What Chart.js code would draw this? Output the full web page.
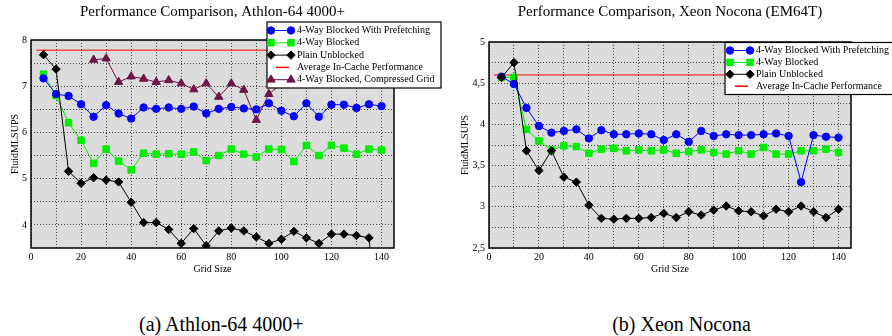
<!DOCTYPE html>
<html>
<head>
<meta charset="utf-8">
<script src="https://cdn.jsdelivr.net/npm/chart.js@4/dist/chart.umd.min.js"></script>
<style>
  body { margin: 0; background: #fff; width: 892px; height: 336px; position: relative; overflow: hidden; font-family: "Liberation Serif", serif; }
  .wrap { position: absolute; top: 0; width: 446px; height: 280px; }
  .caption { position: absolute; top: 314px; font-size: 20px; line-height: 20px; white-space: nowrap; color: #000; }
</style>
</head>
<body>
<div class="wrap" style="left:0"><canvas id="athlon"></canvas></div>
<div class="wrap" style="left:446px"><canvas id="xeon"></canvas></div>
<div class="caption" style="left:139px">(a) Athlon-64 4000+</div>
<div class="caption" style="right:141px">(b) Xeon Nocona</div>
<script>
// Données
const gridSize = [5, 10, 15, 20, 25, 30, 35, 40, 45, 50, 55, 60, 65, 70, 75, 80, 85, 90, 95, 100, 105, 110, 115, 120, 125, 130, 135, 140];

const athlonPrefetch = [7.17, 6.83, 6.79, 6.61, 6.34, 6.59, 6.41, 6.30, 6.54, 6.51, 6.54, 6.51, 6.56, 6.41, 6.51, 6.55, 6.52, 6.50, 6.63, 6.47, 6.35, 6.63, 6.34, 6.60, 6.60, 6.53, 6.61, 6.57];
const athlonBlocked = [7.26, 6.80, 6.21, 5.83, 5.33, 5.64, 5.38, 5.19, 5.55, 5.53, 5.54, 5.53, 5.58, 5.39, 5.50, 5.64, 5.53, 5.47, 5.64, 5.63, 5.37, 5.72, 5.50, 5.72, 5.66, 5.53, 5.64, 5.62];
const athlonUnblocked = [7.68, 7.37, 5.16, 4.90, 5.02, 4.97, 4.93, 4.49, 4.05, 4.05, 3.90, 3.60, 3.92, 3.55, 3.87, 3.93, 3.87, 3.74, 3.60, 3.69, 3.86, 3.72, 3.60, 3.80, 3.80, 3.77, 3.72, 1.0];
const compressedGrid = [25, 30, 35, 40, 45, 50, 55, 60, 65, 70, 75, 80, 85, 90, 95, 100];
const athlonCompressed = [7.57, 7.60, 7.09, 7.21, 7.16, 7.09, 7.13, 7.06, 6.93, 7.06, 6.77, 7.06, 6.92, 6.27, 6.83, 7.05];
const athlonInCache = 7.78;

const xeonPrefetch = [4.58, 4.49, 4.20, 3.98, 3.90, 3.92, 3.94, 3.83, 3.93, 3.88, 3.88, 3.89, 3.88, 3.81, 3.88, 3.79, 3.92, 3.86, 3.88, 3.87, 3.87, 3.88, 3.89, 3.86, 3.30, 3.87, 3.85, 3.84];
const xeonBlocked = [4.57, 4.57, 3.94, 3.80, 3.69, 3.74, 3.73, 3.65, 3.70, 3.71, 3.68, 3.69, 3.68, 3.69, 3.65, 3.67, 3.69, 3.66, 3.64, 3.68, 3.64, 3.72, 3.64, 3.64, 3.68, 3.68, 3.70, 3.66];
const xeonUnblocked = [4.57, 4.75, 3.68, 3.44, 3.68, 3.36, 3.30, 3.02, 2.86, 2.85, 2.86, 2.86, 2.87, 2.92, 2.87, 2.94, 2.90, 2.96, 3.01, 2.95, 2.94, 2.89, 2.97, 2.94, 3.01, 2.94, 2.87, 2.97];
const xeonInCache = 4.60;
const inCacheRange = [2, 145];

const xTicks = [0, 10, 20, 30, 40, 50, 60, 70, 80, 90, 100, 110, 120, 130, 140];
const xTickLabels = [0, 20, 40, 60, 80, 100, 120, 140];
const athlonYTicks = [4, 4.5, 5, 5.5, 6, 6.5, 7, 7.5, 8];
const athlonYLabels = [4, 5, 6, 7, 8];
const xeonYTicks = [2.5, 2.75, 3, 3.25, 3.5, 3.75, 4, 4.25, 4.5, 4.75, 5];
const xeonYLabels = [2.5, 3, 3.5, 4, 4.5, 5];

const labels = {
  prefetch: "4-Way Blocked With Prefetching",
  blocked: "4-Way Blocked",
  unblocked: "Plain Unblocked",
  inCache: "Average In-Cache Performance",
  compressed: "4-Way Blocked, Compressed Grid"
};

const FONT = "'Liberation Serif', 'Times New Roman', serif";

function pts(xs, ys) {
  return xs.map((x, i) => ({ x: x, y: ys[i] }));
}

function serie(label, data, color, style, radius, order) {
  return {
    label: label,
    data: data,
    borderColor: color,
    backgroundColor: color,
    pointBackgroundColor: color,
    pointBorderColor: color,
    pointStyle: style,
    pointRadius: radius,
    pointBorderWidth: 1,
    borderWidth: 1,
    tension: 0,
    order: order
  };
}

// Fond gris, cadre, titre et légende dessinés dans la zone du graphique
const framePlugin = {
  id: "frame",
  beforeDraw(chart) {
    const a = chart.chartArea;
    const ctx = chart.ctx;
    ctx.save();
    ctx.fillStyle = "#dcdcdc";
    ctx.fillRect(a.left, a.top, a.right - a.left, a.bottom - a.top);
    ctx.restore();
  },
  afterDraw(chart, args, opts) {
    const a = chart.chartArea;
    const ctx = chart.ctx;
    ctx.save();
    ctx.strokeStyle = "#000";
    ctx.lineWidth = 1.5;
    ctx.strokeRect(a.left, a.top, a.right - a.left, a.bottom - a.top);

    // titre
    ctx.fillStyle = "#000";
    ctx.font = "15px " + FONT;
    ctx.textAlign = "center";
    ctx.textBaseline = "middle";
    ctx.fillText(opts.title, (a.left + a.right) / 2, 12);

    // légende
    const L = opts.legend;
    ctx.fillStyle = "#fff";
    ctx.fillRect(L.x, L.y, L.w, L.h);
    ctx.strokeStyle = "#000";
    ctx.lineWidth = 1.2;
    ctx.strokeRect(L.x, L.y, L.w, L.h);
    ctx.font = "10px " + FONT;
    ctx.textAlign = "left";
    L.order.forEach((idx, row) => {
      const ds = chart.data.datasets[idx];
      const y = L.y + L.first + row * L.rowH;
      const x0 = L.x + L.symX;
      const x1 = x0 + 20;
      ctx.strokeStyle = ds.borderColor;
      ctx.lineWidth = ds.pointRadius > 0 ? 1 : 1.5;
      ctx.beginPath();
      if (ds.pointRadius > 0) {
        ctx.moveTo(x0, y);
        ctx.lineTo(x1, y);
      } else {
        ctx.moveTo(x0 + 5, y);
        ctx.lineTo(x1 - 2, y);
      }
      ctx.stroke();
      if (ds.pointRadius > 0) {
        ctx.fillStyle = ds.pointBackgroundColor;
        const o = { pointStyle: ds.pointStyle, radius: ds.pointRadius, borderWidth: 1, rotation: 0 };
        Chart.helpers.drawPoint(ctx, o, x0, y);
        Chart.helpers.drawPoint(ctx, o, x1, y);
      }
      ctx.fillStyle = "#000";
      ctx.fillText(ds.label, x1 + 6, y);
    });
    ctx.restore();
  }
};

function makeOptions(cfg) {
  return {
    responsive: true,
    maintainAspectRatio: false,
    animation: false,
    layout: { padding: cfg.padding },
    plugins: {
      legend: { display: false },
      title: { display: false },
      tooltip: { enabled: false },
      frame: { title: cfg.title, legend: cfg.legend }
    },
    scales: {
      x: {
        type: "linear",
        min: 0,
        max: 145,
        afterFit: (scale) => { scale.height = 32; },
        afterBuildTicks: (scale) => { scale.ticks = xTicks.map((v) => ({ value: v })); },
        grid: { color: "#444", lineWidth: 1, drawTicks: false },
        border: { display: false, dash: [1, 2] },
        ticks: {
          autoSkip: false,
          maxRotation: 0,
          padding: 3,
          color: "#000",
          font: { family: FONT, size: 10 },
          callback: (v) => (xTickLabels.includes(v) ? String(v) : "")
        },
        title: {
          display: true,
          text: "Grid Size",
          color: "#000",
          font: { family: FONT, size: 10 },
          padding: { top: 0, bottom: 5 }
        }
      },
      y: {
        type: "linear",
        min: cfg.yMin,
        max: cfg.yMax,
        afterFit: (scale) => { scale.width = cfg.yWidth; },
        afterBuildTicks: (scale) => { scale.ticks = cfg.yTicks.map((v) => ({ value: v })); },
        grid: { color: "#444", lineWidth: 1, drawTicks: false },
        border: { display: false, dash: [1, 2] },
        ticks: {
          autoSkip: false,
          padding: 4,
          color: "#000",
          font: { family: FONT, size: 10 },
          callback: (v) => (cfg.yLabels.includes(v) ? String(v).replace(".", ",") : "")
        },
        title: {
          display: true,
          text: "FluidMLSUPS",
          color: "#000",
          font: { family: FONT, size: 10 },
          padding: { top: cfg.yTitlePad, bottom: 0 }
        }
      }
    }
  };
}

// Athlon-64 4000+
new Chart(document.getElementById("athlon"), {
  type: "line",
  data: {
    datasets: [
      serie(labels.prefetch, pts(gridSize, athlonPrefetch), "#0000ff", "circle", 3.7, 2),
      serie(labels.blocked, pts(gridSize, athlonBlocked), "#00ee00", "rect", 4.6, 3),
      serie(labels.unblocked, pts(gridSize, athlonUnblocked), "#000000", "rectRot", 4.2, 1),
      serie(labels.inCache, pts(inCacheRange, [athlonInCache, athlonInCache]), "#ff0000", "circle", 0, 5),
      serie(labels.compressed, pts(compressedGrid, athlonCompressed), "#6e1446", "triangle", 4.8, 4)
    ]
  },
  options: makeOptions({
    padding: { left: 0, right: 52, top: 40, bottom: 0 },
    title: "Performance Comparison, Athlon-64 4000+",
    yMin: 3.5, yMax: 8, yTicks: athlonYTicks, yLabels: athlonYLabels, yWidth: 31, yTitlePad: 9,
    legend: { x: 267, y: 22, w: 174, h: 66, first: 8.5, rowH: 12.3, symX: 4, order: [0, 1, 2, 3, 4] }
  }),
  plugins: [framePlugin]
});

// Xeon Nocona (EM64T)
new Chart(document.getElementById("xeon"), {
  type: "line",
  data: {
    datasets: [
      serie(labels.prefetch, pts(gridSize, xeonPrefetch), "#0000ff", "circle", 3.7, 2),
      serie(labels.blocked, pts(gridSize, xeonBlocked), "#00ee00", "rect", 4.6, 3),
      serie(labels.unblocked, pts(gridSize, xeonUnblocked), "#000000", "rectRot", 4.2, 1),
      serie(labels.inCache, pts(inCacheRange, [xeonInCache, xeonInCache]), "#ff0000", "circle", 0, 5)
    ]
  },
  options: makeOptions({
    padding: { left: 0, right: 41, top: 42, bottom: 0 },
    title: "Performance Comparison, Xeon Nocona (EM64T)",
    yMin: 2.5, yMax: 5, yTicks: xeonYTicks, yLabels: xeonYLabels, yWidth: 43, yTitlePad: 13,
    legend: { x: 279, y: 42.5, w: 180, h: 52, first: 8, rowH: 11.9, symX: 5, order: [0, 1, 2, 3] }
  }),
  plugins: [framePlugin]
});
</script>
</body>
</html>
